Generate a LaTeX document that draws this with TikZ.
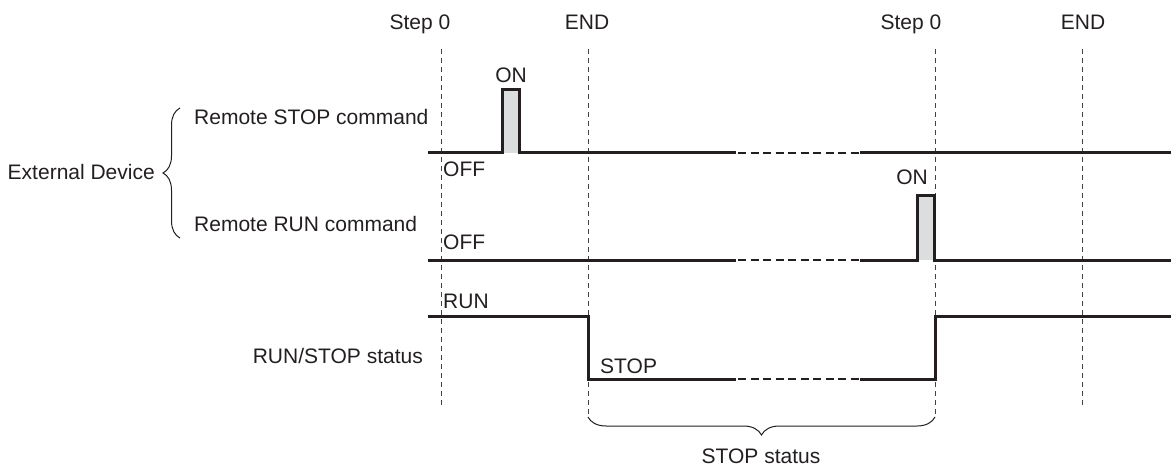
\documentclass[tikz,border=0pt]{standalone}
\usepackage{fontspec}
\setmainfont{Liberation Sans}
\usetikzlibrary{calc, positioning}
\usetikzlibrary{decorations.pathreplacing}
\definecolor{ink}{RGB}{35,31,32}
\definecolor{pulsegray}{RGB}{220,221,222}

\begin{document}
\begin{tikzpicture}[x=1pt, y=-1pt, font=\fontsize{21}{25}\selectfont,
  every node/.style={inner sep=0pt, text=ink},
  signal/.style={line width=3pt, draw=ink, line join=miter},
  gapline/.style={line width=1.1pt, draw=ink, dash pattern=on 8pt off 4.5pt, dash phase=-2pt},
  gridline/.style={line width=0.9pt, draw=ink!85, dash pattern=on 5pt off 4pt},
  bracelet/.style={line width=1pt, draw=ink, decorate}]
\def\lstart{428}
\def\gapl{736}
\def\gapr{860}
\def\lend{1171}
\def\stepA{441}
\def\endA{588}
\def\stepB{935}
\def\endB{1082}
\def\stopoff{153}
\def\stopon{90}
\def\runoff{260}
\def\runon{196}
\def\sthigh{316}
\def\stlow{379}

\useasboundingbox (0,0) rectangle (1171,468);

% time marks
\node[anchor=base] (stepa) at (420,30) {Step 0};
\node[anchor=base] (enda) at (587,30) {END};
\node[anchor=base] (stepb) at (911,30) {Step 0};
\node[anchor=base] (endb) at (1083,30) {END};
\draw[gridline] (\stepA,49) -- (\stepA,406);
\draw[gridline] (\endA,49) -- (\endA,416);
\draw[gridline] (\stepB,49) -- (\stepB,416);
\draw[gridline] (\endB,49) -- (\endB,406);

% remote STOP command
\fill[pulsegray] (502,\stopon) rectangle (519,\stopoff);
\draw[signal] (\lstart,\stopoff) -- (502,\stopoff) -- (502,\stopon) -- (519,\stopon)
  -- (519,\stopoff) -- (\gapl,\stopoff);
\draw[gapline] (\gapl,\stopoff) -- (\gapr,\stopoff);
\draw[signal] (\gapr,\stopoff) -- (\lend,\stopoff);
\node[anchor=base] (onstop) at (511,83) {ON};
\node[anchor=base west] (offstop) at (443,177) {OFF};

% remote RUN command
\fill[pulsegray] (917,\runon) rectangle (934,\runoff);
\draw[signal] (\lstart,\runoff) -- (\gapl,\runoff);
\draw[gapline] (\gapl,\runoff) -- (\gapr,\runoff);
\draw[signal] (\gapr,\runoff) -- (917,\runoff) -- (917,\runon) -- (934,\runon)
  -- (934,\runoff) -- (\lend,\runoff);
\node[anchor=base] (onrun) at (912,185) {ON};
\node[anchor=base west] (offrun) at (443,249) {OFF};

% RUN/STOP status
\draw[signal] (\lstart,\sthigh) -- (\endA,\sthigh) -- (\endA,\stlow) -- (\gapl,\stlow);
\draw[gapline] (\gapl,\stlow) -- (\gapr,\stlow);
\draw[signal] (\gapr,\stlow) -- (\stepB,\stlow) -- (\stepB,\sthigh) -- (\lend,\sthigh);
\node[anchor=base west] (runlbl) at (443,308) {RUN};
\node[anchor=base west] (stoplbl) at (600,373) {STOP};

% signal names
\node[anchor=base west] (stopcmd) at (194,125) {Remote STOP command};
\node[anchor=base west] (runcmd) at (194,232) {Remote RUN command};
\node[anchor=base east] (status) at (423,363) {RUN/STOP status};
\node[anchor=base east] (extdev) at (155,179) {External Device};
\draw[bracelet, decoration={brace, amplitude=17pt}] (180,238) -- (180,108);

% stop period
\draw[bracelet, decoration={brace, amplitude=18pt}] (\stepB,417) -- (\endA,417);
\node[anchor=base] (stopstat) at (761,463) {STOP status};
\end{tikzpicture}
\end{document}
